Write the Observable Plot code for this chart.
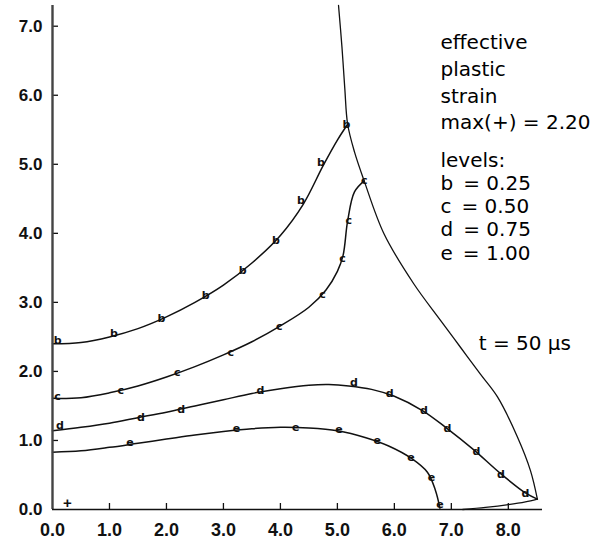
<!DOCTYPE html>
<html>
<head>
<meta charset="utf-8">
<script src="https://cdn.jsdelivr.net/npm/d3@7"></script>
<script src="https://cdn.jsdelivr.net/npm/@observablehq/plot@0.6"></script>
<style>
  body { margin: 0; background: #fff; }
  #chart svg { display: block; }
</style>
</head>
<body>
<div id="chart"></div>
<script>
// Effective plastic strain contours at t = 50 µs

// Contour levels
const levelNames = ["b", "c", "d", "e"];
const levelValues = [0.25, 0.50, 0.75, 1.00];
const maxStrain = 2.20;

// Level b = 0.25
const bX = [0, 0.5, 1.0, 1.5, 2.0, 2.5, 3.0, 3.5, 4.0, 4.4, 4.75, 5.0, 5.18];
const bY = [2.40, 2.42, 2.50, 2.62, 2.79, 3.00, 3.25, 3.57, 3.97, 4.42, 4.98, 5.35, 5.58];

// Level c = 0.50
const cX = [0, 0.5, 1.0, 1.5, 2.0, 2.5, 3.0, 3.5, 4.0, 4.5, 4.8, 5.0, 5.1, 5.18, 5.3, 5.47];
const cY = [1.61, 1.62, 1.69, 1.79, 1.92, 2.07, 2.24, 2.43, 2.66, 2.93, 3.18, 3.45, 3.68, 4.18, 4.6, 4.76];

// Level d = 0.75
const dX = [0, 0.5, 1.0, 1.5, 2.0, 2.5, 3.0, 3.5, 4.0, 4.5, 4.85, 5.2, 5.6, 6.0, 6.5, 6.9, 7.4, 7.85, 8.3, 8.51];
const dY = [1.14, 1.19, 1.25, 1.33, 1.41, 1.50, 1.59, 1.68, 1.75, 1.80, 1.81, 1.79, 1.74, 1.64, 1.43, 1.19, 0.86, 0.53, 0.24, 0.15];

// Level e = 1.00
const eX = [0, 0.5, 1.0, 1.5, 2.0, 2.5, 3.0, 3.5, 4.0, 4.5, 5.0, 5.5, 5.9, 6.3, 6.58, 6.72, 6.8];
const eY = [0.83, 0.85, 0.90, 0.96, 1.02, 1.08, 1.13, 1.17, 1.19, 1.18, 1.14, 1.04, 0.92, 0.74, 0.54, 0.28, 0.02];

// Outer boundary of the deformed region
const fX = [5.02, 5.08, 5.13, 5.18, 5.3, 5.47, 5.82, 6.34, 6.81, 7.16, 7.51, 7.81, 8.16, 8.39, 8.51];
const fY = [7.3, 6.7, 6.1, 5.58, 5.18, 4.76, 3.99, 3.27, 2.74, 2.35, 1.96, 1.63, 1.05, 0.56, 0.15];

// Short segment along the lower edge
const sX = [7.2, 7.6, 8.0, 8.3, 8.51];
const sY = [0.0, 0.03, 0.07, 0.11, 0.15];

// Letter labels placed along each contour
const markLetter = [
  "b","b","b","b","b","b","b","b","b",
  "c","c","c","c","c","c","c","c","c",
  "d","d","d","d","d","d","d","d","d","d","d",
  "e","e","e","e","e","e","e","e"
];
const markX = [
  0.09, 1.08, 1.91, 2.69, 3.34, 3.92, 4.36, 4.71, 5.16,
  0.09, 1.2, 2.19, 3.13, 3.98, 4.74, 5.09, 5.2, 5.47,
  0.13, 1.55, 2.26, 3.65, 5.29, 5.92, 6.52, 6.93, 7.44, 7.87, 8.3,
  1.36, 3.23, 4.27, 5.03, 5.7, 6.29, 6.65, 6.8
];
const markY = [
  2.45, 2.55, 2.77, 3.10, 3.46, 3.89, 4.47, 5.03, 5.57,
  1.63, 1.73, 1.99, 2.28, 2.65, 3.12, 3.63, 4.18, 4.76,
  1.22, 1.33, 1.45, 1.72, 1.84, 1.68, 1.43, 1.17, 0.84, 0.51, 0.23,
  0.97, 1.17, 1.19, 1.16, 1.00, 0.75, 0.47, 0.08
];

// Location of the maximum
const maxX = [0.26];
const maxY = [0.09];

// Axes
const xDomain = [0, 8.6];
const yDomain = [0, 7.3];
const xTicks = [0, 1, 2, 3, 4, 5, 6, 7, 8];
const yTicks = [0, 1, 2, 3, 4, 5, 6, 7];

// Layout
const W = 593, H = 544;
const M = {left: 52, right: 51, top: 5, bottom: 35};
const pxPerY = (H - M.top - M.bottom) / (yDomain[1] - yDomain[0]);

const toPoints = (xs, ys) => xs.map((x, i) => ({x, y: ys[i]}));
const contourData = [toPoints(bX, bY), toPoints(cX, cY), toPoints(dX, dY), toPoints(eX, eY)];
const letterData = markLetter.map((label, i) => ({label, x: markX[i], y: markY[i]}));
const fmt = d3.format(".2f");

const headerLines = ["effective", "plastic", "strain", `max(+) = ${fmt(maxStrain)}`];
const levelLines = ["levels:", ...levelNames.map((n, i) => `${n}\u2002= ${fmt(levelValues[i])}`)];

const sans = "'Liberation Sans', Arial, sans-serif";
const dejavu = "'DejaVu Sans', sans-serif";
const lineStyle = {x: "x", y: "y", curve: "catmull-rom", stroke: "#111", strokeWidth: 1.5};
const noteStyle = {textAnchor: "start", lineAnchor: "top", fontSize: 20, fill: "#000", fontFamily: dejavu};

const chart = Plot.plot({
  width: W,
  height: H,
  marginLeft: M.left,
  marginRight: M.right,
  marginTop: M.top,
  marginBottom: M.bottom,
  x: {domain: xDomain},
  y: {domain: yDomain},
  marks: [
    // contours
    ...contourData.map(c => Plot.line(c, lineStyle)),
    Plot.line(toPoints(fX, fY), {...lineStyle, strokeWidth: 1.3}),
    Plot.line(toPoints(sX, sY), {...lineStyle, strokeWidth: 1.3}),
    Plot.text(letterData, {x: "x", y: "y", text: "label", fontSize: 11, fontWeight: "bold", fill: "#111", fontFamily: dejavu}),
    Plot.text(toPoints(maxX, maxY), {x: "x", y: "y", text: () => "+", fontSize: 15, fontWeight: "bold", fill: "#111", fontFamily: sans}),
    // notes, one line per datum
    Plot.text(headerLines, {...noteStyle, x: 6.81, y: (d, i) => 6.87 - i * 26.7 / pxPerY, text: d => d}),
    Plot.text(levelLines, {...noteStyle, x: 6.81, y: (d, i) => 5.17 - i * 23.2 / pxPerY, text: d => d}),
    Plot.text(["t = 50 µs"], {...noteStyle, lineAnchor: "middle", x: 7.48, y: 2.40, text: d => d}),
    // tick labels
    Plot.axisY(yTicks, {tickSize: 0, tickPadding: 10, tickFormat: d3.format(".1f"), fontSize: 17, fontWeight: "bold", fontFamily: sans, fill: "#111", label: null}),
    Plot.axisX(xTicks, {tickSize: 0, tickPadding: 14, tickFormat: d3.format(".1f"), fontSize: 18, fontWeight: "bold", fontFamily: sans, fill: "#111", label: null}),
    // tick marks pointing into the plot
    Plot.axisY(yTicks.filter(d => d > 0), {tickSize: 6, dx: 6, tickFormat: () => "", label: null, stroke: "#111", strokeWidth: 1.3}),
    Plot.axisX(xTicks.filter(d => d > 0), {tickSize: 6, dy: -6, tickFormat: () => "", label: null, stroke: "#111", strokeWidth: 1.3}),
    // axis lines
    Plot.ruleX([xDomain[0]], {y1: yDomain[0], y2: yDomain[1], stroke: "#444", strokeWidth: 2.4}),
    Plot.ruleY([yDomain[0]], {x1: xDomain[0], x2: xDomain[1], stroke: "#111", strokeWidth: 1.6})
  ]
});

document.getElementById("chart").appendChild(chart);
</script>
</body>
</html>
